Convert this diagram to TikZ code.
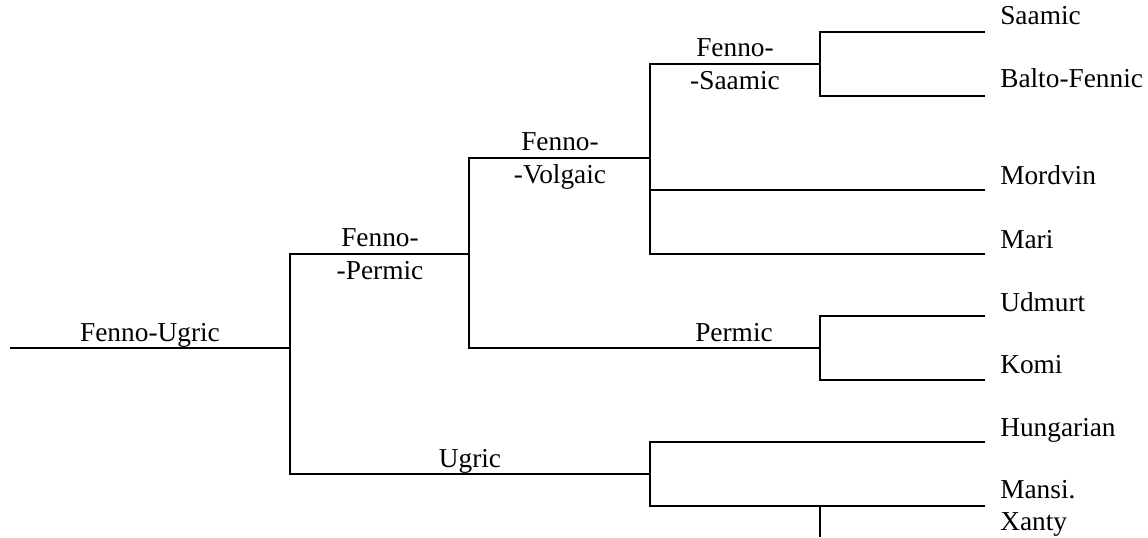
\documentclass[tikz,border=0pt]{standalone}
\usepackage{fontspec}
\setmainfont{Liberation Serif}
\begin{document}
\begin{tikzpicture}[x=0.75pt,y=-0.75pt,
  branch/.style={line width=1.5pt},
  lbl/.style={inner sep=0pt,anchor=base,font=\fontsize{20.5}{24}\selectfont},
  leaf/.style={lbl,anchor=base west}]
\useasboundingbox (0,0) rectangle (1148,537);

% branch points
\coordinate (r)  at (10,348);
\coordinate (fu) at (290,348);
\coordinate (fp) at (469,254);
\coordinate (ug) at (650,474);
\coordinate (fv) at (650,158);
\coordinate (pm) at (820,348);
\coordinate (fs) at (820,64);
\coordinate (mx) at (820,506);
\coordinate (tail) at (820,537);

% leaf ends
\coordinate (saa)  at (985,32);
\coordinate (bf)   at (985,96);
\coordinate (mor)  at (985,190);
\coordinate (mari) at (985,254);
\coordinate (udm)  at (985,316);
\coordinate (komi) at (985,380);
\coordinate (hun)  at (985,442);
\coordinate (man)  at (985,506);

% tree
\draw[branch] (r) -- (fu);
\draw[branch] (fu) |- (fp);
\draw[branch] (fu) |- (ug);
\draw[branch] (fp) |- (fv);
\draw[branch] (fp) |- (pm);
\draw[branch] (fv) |- (fs);
\draw[branch] (fv) |- (mor);
\draw[branch] (fv) |- (mari);
\draw[branch] (fs) |- (saa);
\draw[branch] (fs) |- (bf);
\draw[branch] (pm) |- (udm);
\draw[branch] (pm) |- (komi);
\draw[branch] (ug) |- (hun);
\draw[branch] (ug) |- (man);
\draw[branch] (mx) -- (tail);

% group labels
\node[lbl] (tFU) at (150,341) {Fenno-Ugric};
\node[lbl] (tFPa) at (380,246) {Fenno-};
\node[lbl] (tFPb) at (380,279) {-Permic};
\node[lbl] (tFVa) at (560,150) {Fenno-};
\node[lbl] (tFVb) at (560,183) {-Volgaic};
\node[lbl] (tFSa) at (735,56) {Fenno-};
\node[lbl] (tFSb) at (735,89) {-Saamic};
\node[lbl] (tPm) at (734,341) {Permic};
\node[lbl] (tUg) at (470,467) {Ugric};

% language labels
\node[leaf] (lSaa) at (1000,24) {Saamic};
\node[leaf] (lBf) at (1000,87) {Balto-Fennic};
\node[leaf] (lMor) at (1000,184) {Mordvin};
\node[leaf] (lMari) at (1000,248) {Mari};
\node[leaf] (lUdm) at (1000,311) {Udmurt};
\node[leaf] (lKomi) at (1000,373) {Komi};
\node[leaf] (lHun) at (1000,436) {Hungarian};
\node[leaf] (lManA) at (1000,498) {Mansi.};
\node[leaf] (lManB) at (1000,530) {Xanty};
\end{tikzpicture}
\end{document}
